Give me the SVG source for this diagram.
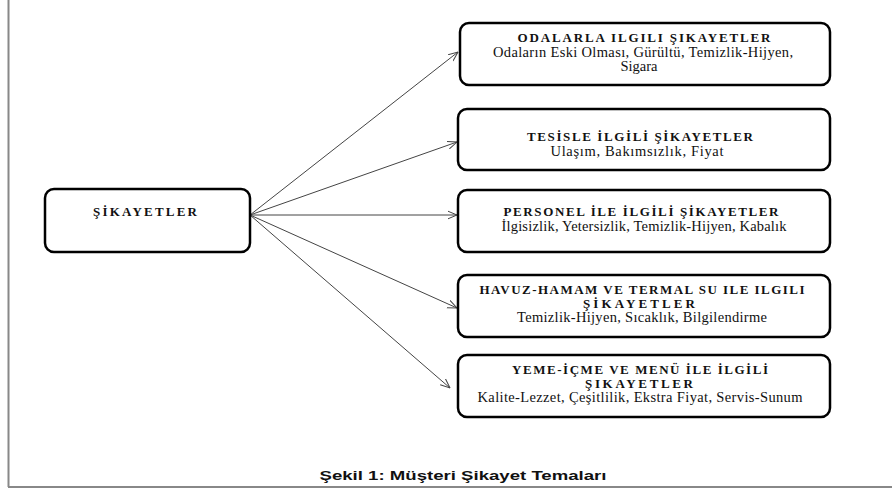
<svg xmlns="http://www.w3.org/2000/svg" width="892" height="490" viewBox="0 0 892 490">
<defs>
<style>
.box{fill:#fff;stroke:#000;stroke-width:2.5}
.t{font-family:'Liberation Serif','Times New Roman',Times,serif;font-weight:bold;font-size:13px;fill:#111;text-anchor:middle}
.s{font-family:'Liberation Serif','Times New Roman',Times,serif;font-size:14.5px;fill:#111;text-anchor:middle}
.c{fill:none;stroke:#444;stroke-width:1}
.cap{font-family:'Liberation Sans',Arial,sans-serif;font-weight:bold;font-size:13px;fill:#111;text-anchor:middle}
</style>
<marker id="ah" viewBox="0 0 10 10" refX="9.5" refY="5" markerWidth="10" markerHeight="10" markerUnits="userSpaceOnUse" orient="auto">
<path d="M0,1 L9.5,5 L0,9" fill="none" stroke="#444" stroke-width="1"/>
</marker>
</defs>
<rect width="892" height="490" fill="#fff"/>
<g id="frame">
<line x1="8.5" y1="0" x2="8.5" y2="487" stroke="#888" stroke-width="2"/>
<line x1="8" y1="487" x2="892" y2="487" stroke="#888" stroke-width="2"/>
</g>
<g id="connectors">
<line class="c" x1="250" y1="215" x2="458" y2="52" marker-end="url(#ah)"/>
<line class="c" x1="250" y1="215" x2="457" y2="142" marker-end="url(#ah)"/>
<line class="c" x1="250" y1="215" x2="457" y2="215" marker-end="url(#ah)"/>
<line class="c" x1="250" y1="215" x2="457" y2="308" marker-end="url(#ah)"/>
<line class="c" x1="250" y1="215" x2="450" y2="388" marker-end="url(#ah)"/>
</g>
<g id="center">
<rect class="box" x="45" y="189" width="205" height="63" rx="9"/>
<text class="t" x="145" y="216" textLength="104" lengthAdjust="spacing">ŞİKAYETLER</text>
</g>
<g id="n1">
<rect class="box" x="460" y="23" width="370" height="62" rx="9"/>
<text class="t" x="644" y="42" textLength="253" lengthAdjust="spacing">ODALARLA ILGILI ŞIKAYETLER</text>
<text class="s" x="643" y="56.5" textLength="300" lengthAdjust="spacing">Odaların Eski Olması, Gürültü, Temizlik-Hijyen,</text>
<text class="s" x="639" y="71">Sigara</text>
</g>
<g id="n2">
<rect class="box" x="458" y="109" width="372" height="61" rx="9"/>
<text class="t" x="640" y="141" textLength="226" lengthAdjust="spacing">TESİSLE İLGİLİ ŞİKAYETLER</text>
<text class="s" x="637" y="156" textLength="173" lengthAdjust="spacing">Ulaşım, Bakımsızlık, Fiyat</text>
</g>
<g id="n3">
<rect class="box" x="458" y="190" width="372" height="62" rx="9"/>
<text class="t" x="641" y="216" textLength="275" lengthAdjust="spacing">PERSONEL İLE İLGİLİ ŞİKAYETLER</text>
<text class="s" x="644" y="231" textLength="285" lengthAdjust="spacing">İlgisizlik, Yetersizlik, Temizlik-Hijyen, Kabalık</text>
</g>
<g id="n4">
<rect class="box" x="458" y="275" width="372" height="62" rx="9"/>
<text class="t" x="642" y="293.5" textLength="325" lengthAdjust="spacing">HAVUZ-HAMAM VE TERMAL SU ILE ILGILI</text>
<text class="t" x="639" y="307.5" textLength="112" lengthAdjust="spacing">ŞİKAYETLER</text>
<text class="s" x="642" y="322" textLength="250" lengthAdjust="spacing">Temizlik-Hijyen, Sıcaklık, Bilgilendirme</text>
</g>
<g id="n5">
<rect class="box" x="458" y="355" width="372" height="62" rx="9"/>
<text class="t" x="640" y="373.5" textLength="256" lengthAdjust="spacing">YEME-İÇME VE MENÜ İLE İLGİLİ</text>
<text class="t" x="639" y="387.5" textLength="108" lengthAdjust="spacing">ŞIKAYETLER</text>
<text class="s" x="640" y="402" textLength="325" lengthAdjust="spacing">Kalite-Lezzet,  Çeşitlilik, Ekstra Fiyat, Servis-Sunum</text>
</g>
<text class="cap" x="463" y="480" textLength="287" lengthAdjust="spacingAndGlyphs">Şekil 1: Müşteri Şikayet Temaları</text>
</svg>
